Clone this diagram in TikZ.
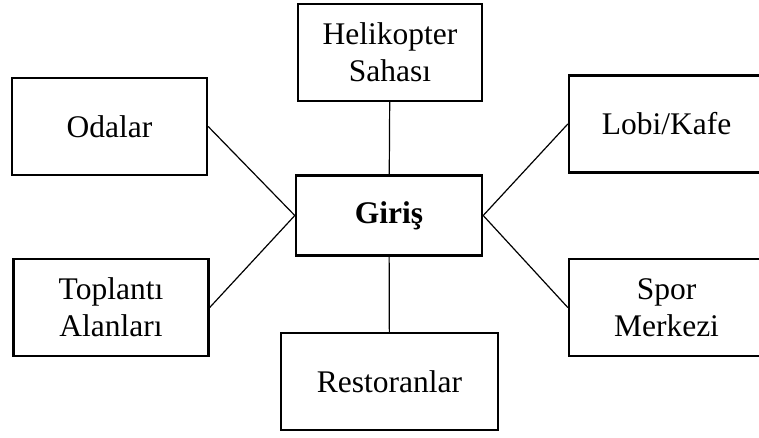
\documentclass[tikz,border=0pt]{standalone}
\usepackage{fontspec}
\setmainfont{Liberation Serif}
\begin{document}
\begin{tikzpicture}[x=1pt, y=-1pt, every node/.style={rectangle, draw, line width=2.4pt, inner sep=0pt, minimum width=195pt, minimum height=97pt, align=center, font=\fontsize{31.5}{37}\selectfont}]
	\useasboundingbox (0,0) rectangle (759,437);
	\clip (0,0) rectangle (759,437);
	%Entrance
	\node [minimum width=186pt, minimum height=80pt, font=\fontsize{31.5}{37}\selectfont\bfseries] (giris) at (389,215.5) {Giriş};
	%Top and bottom
	\node [minimum width=184pt] (heli) at (390,52.5) {Helikopter\\Sahası};
	\node [minimum width=217pt] (restoran) at (389.5,381.5) {Restoranlar};
	%Left
	\node (odalar) at (109.5,126.5) {Odalar};
	\node (toplanti) at (111,307.5) {Toplantı\\Alanları};
	%Right
	\node (lobi) at (666.5,124) {Lobi/Kafe};
	\node (spor) at (666.5,307.5) {Spor\\Merkezi};
	%Links
	\draw[line width=1.2pt] (heli) -- (giris);
	\draw[line width=1.2pt] (giris) -- (restoran);
	\draw[line width=1.2pt] (odalar.east) -- (giris.west);
	\draw[line width=1.2pt] (toplanti.east) -- (giris.west);
	\draw[line width=1.2pt] (lobi.west) -- (giris.east);
	\draw[line width=1.2pt] (spor.west) -- (giris.east);
\end{tikzpicture}
\end{document}
